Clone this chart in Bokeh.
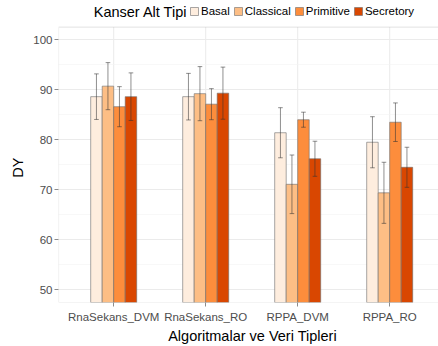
from bokeh.plotting import figure
from bokeh.models import (Range1d, FixedTicker, SingleIntervalTicker, Legend, LegendItem,
                          Label, BoxAnnotation, ColumnDataSource)
from bokeh.embed import file_html
from bokeh.resources import INLINE

categories = ["RnaSekans_DVM", "RnaSekans_RO", "RPPA_DVM", "RPPA_RO"]
subtypes = ["Basal", "Classical", "Primitive", "Secretory"]
colors = ["#FEEDDE", "#FDBE85", "#FD8D3C", "#D94701"]

basal_mean = [88.6, 88.6, 81.4, 79.5]
basal_sd = [4.55, 4.65, 5.0, 5.1]
classical_mean = [90.7, 89.2, 71.1, 69.4]
classical_sd = [4.7, 5.4, 5.85, 6.1]
primitive_mean = [86.6, 87.1, 84.0, 83.5]
primitive_sd = [4.0, 3.1, 1.5, 3.85]
secretory_mean = [88.6, 89.3, 76.2, 74.5]
secretory_sd = [4.75, 5.2, 3.5, 4.0]

means = [basal_mean, classical_mean, primitive_mean, secretory_mean]
sds = [basal_sd, classical_sd, primitive_sd, secretory_sd]

FONT = "Liberation Sans"
NBSP = "\u00a0"
bar_w = 0.125
offsets = [-0.1875, -0.0625, 0.0625, 0.1875]

Y0, Y1 = 47.5, 102.5          # panel limits
PX_PER_Y = 280 / (Y1 - Y0)    # panel is 280px high
X0 = 0.4
X1 = X0 + 380 / 92.0
y_top = Y0 + 307 / PX_PER_Y   # frame extends to canvas top to host the legend

p = figure(width=438, height=346, output_backend="svg", toolbar_location=None,
           x_range=Range1d(X0, X1), y_range=Range1d(Y0, y_top),
           min_border_left=58, min_border_right=0, min_border_top=0, min_border_bottom=39)

p.background_fill_color = "white"
p.border_fill_color = "white"
p.outline_line_color = None

# grids
p.xgrid.visible = False
yt = SingleIntervalTicker(interval=10, num_minor_ticks=2)
p.yaxis.ticker = yt
p.ygrid.ticker = yt
p.ygrid.bounds = (Y0, Y1)
p.ygrid.grid_line_color = "#EBEBEB"
p.ygrid.grid_line_width = 1
p.ygrid.minor_grid_line_color = "#F4F4F4"
p.ygrid.minor_grid_line_width = 0.6

cat_x = [i + 1 for i in range(len(categories))]
p.segment(x0=cat_x, y0=[Y0] * 4, x1=cat_x, y1=[Y1] * 4, line_color="#EBEBEB",
          line_width=1, level="underlay")

p.add_layout(BoxAnnotation(left=X0, right=X1 + 1, bottom=Y0, top=Y1, fill_alpha=0,
                           line_color="#B3B3B3", line_width=1.2, level="overlay"))

p.xaxis.ticker = FixedTicker(ticks=cat_x)
p.xaxis.major_label_overrides = {i + 1: c for i, c in enumerate(categories)}
p.yaxis.bounds = (Y0, Y1)

for ax in (p.xaxis[0], p.yaxis[0]):
    ax.axis_line_color = None
    ax.major_tick_line_color = "#8C8C8C"
    ax.major_tick_out = 4
    ax.major_tick_in = 0
    ax.minor_tick_line_color = None
    ax.major_label_text_font = FONT
    ax.major_label_text_font_size = "11.5px"
    ax.major_label_text_color = "#4D4D4D"
    ax.major_label_standoff = 2
    ax.axis_label_text_font = FONT
    ax.axis_label_text_font_size = "14.5px"
    ax.axis_label_text_font_style = "normal"
    ax.axis_label_text_color = "black"
    ax.axis_label_standoff = 4

p.xaxis.major_label_standoff = 4
p.xaxis.axis_label_standoff = 2
p.xaxis.axis_label = NBSP * 2 + "Algoritmalar ve Veri Tipleri"
p.yaxis.axis_label = "DY" + NBSP * 8

items = []
for k, st in enumerate(subtypes):
    xs = [i + 1 + offsets[k] for i in range(len(categories))]
    m = means[k]
    s = sds[k]
    src = ColumnDataSource(dict(x=xs, top=m, lo=[a - b for a, b in zip(m, s)],
                                hi=[a + b for a, b in zip(m, s)],
                                cl=[x - 0.025 for x in xs], cr=[x + 0.025 for x in xs]))
    r = p.vbar(x="x", top="top", bottom=0, width=bar_w, source=src,
               fill_color=colors[k], line_color="#6E6E6E", line_alpha=0.6, line_width=1)
    p.segment(x0="x", y0="lo", x1="x", y1="hi", source=src, line_color="#333333",
              line_alpha=0.55, line_width=1)
    p.segment(x0="cl", y0="lo", x1="cr", y1="lo", source=src, line_color="#333333",
              line_alpha=0.55, line_width=1)
    p.segment(x0="cl", y0="hi", x1="cr", y1="hi", source=src, line_color="#333333",
              line_alpha=0.55, line_width=1)
    items.append(LegendItem(label=st, renderers=[r]))

legend = Legend(items=items, orientation="horizontal", location=(131, 285),
                glyph_width=10, glyph_height=10, label_height=10, label_width=0,
                label_standoff=2, spacing=3, padding=0, margin=0,
                label_text_font=FONT, label_text_font_size="11.5px",
                label_text_color="black",
                border_line_color=None, background_fill_alpha=0)
p.add_layout(legend, "center")

title = Label(x=X0 + 129 / 92.0, y=Y0 + (307 - 12) / PX_PER_Y, text="Kanser Alt Tipi",
              text_align="right", text_baseline="middle", text_font=FONT,
              text_font_size="14.5px", text_color="black")
p.add_layout(title)

open("out.html", "w").write(file_html(p, INLINE))
